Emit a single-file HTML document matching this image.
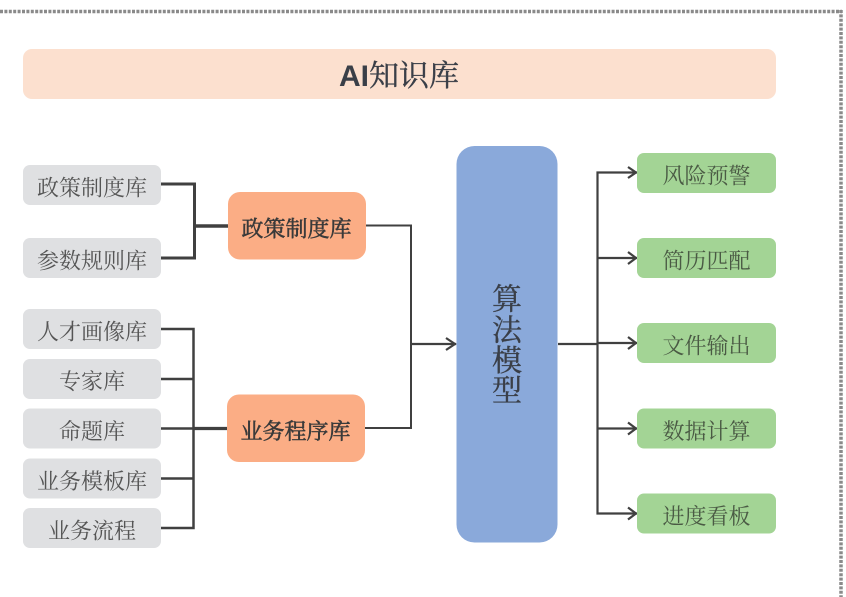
<!DOCTYPE html>
<html lang="zh">
<head>
<meta charset="utf-8">
<title>AI知识库</title>
<style>
html,body{margin:0;padding:0;background:#fff;width:846px;height:597px;overflow:hidden}
svg{display:block}
text{font-family:"Liberation Serif","Noto Serif CJK SC",serif;text-anchor:middle;dominant-baseline:central}
.g{font-size:22px;fill:#555}
.o{font-size:22px;fill:#3a3a3a;stroke:#3a3a3a;stroke-width:.55px}
.n{font-size:22px;fill:#4a5a44}
.b{font-size:30px;fill:#3a3f48;stroke:#3a3f48;stroke-width:.35px}
</style>
</head>
<body>
<svg width="846" height="597" viewBox="0 0 846 597" xmlns="http://www.w3.org/2000/svg">
<line x1="0" y1="11.5" x2="842" y2="11.5" stroke="#8a8a8a" stroke-width="3.5" stroke-dasharray="3 1.4"/>
<line x1="841" y1="10" x2="841" y2="597" stroke="#8a8a8a" stroke-width="3.5" stroke-dasharray="3 1.4"/>

<rect x="23" y="49" width="753" height="50" rx="9" fill="#fce0cf"/>
<text x="399" y="76" font-size="30" fill="#3a3f48"><tspan font-family="Liberation Sans" font-weight="700">AI</tspan><tspan stroke="#3a3f48" stroke-width=".35">知识库</tspan></text>

<g fill="none" stroke="#404040" stroke-linejoin="miter">
<path d="M161 184H194.500V258H161" stroke-width="3"/>
<path d="M194 226H228" stroke-width="3.500"/>
<path d="M161 329H193.500V528H161" stroke-width="2.500"/>
<path d="M161 379H193M161 478.500H193" stroke-width="2.500"/>
<path d="M161 428.500H193" stroke-width="2.500"/>
<path d="M193 428.500H227" stroke-width="3.200"/>
<path d="M366 225.500H411V428H365" stroke-width="2"/>
<path d="M411 344H456" stroke-width="2.200"/>
<path d="M446 338L455 344L446 350" stroke-width="2.200"/>
<path d="M558 344H597" stroke-width="2.200"/>
<path d="M637 172.500H597.500V513.500H637" stroke-width="2.200"/>
<path d="M597 258H637M597 343H637M597 428.500H637" stroke-width="2.200"/>
<path d="M628 167L636 172.500L628 178M628 252L636 258L628 264M628 337L636 343L628 349M628 422.500L636 428.500L628 434.500M628 507.500L636 513.500L628 519.500" stroke-width="2.200"/>
</g>

<g fill="#dfe0e2">
<rect x="23" y="165" width="138" height="40" rx="7"/>
<rect x="23" y="238" width="138" height="40" rx="7"/>
<rect x="23" y="309" width="138" height="40" rx="7"/>
<rect x="23" y="359" width="138" height="40" rx="7"/>
<rect x="23" y="408.500" width="138" height="40" rx="7"/>
<rect x="23" y="458.500" width="138" height="40" rx="7"/>
<rect x="23" y="508" width="138" height="40" rx="7"/>
</g>
<text class="g" x="92" y="188">政策制度库</text>
<text class="g" x="92" y="261">参数规则库</text>
<text class="g" x="92" y="332">人才画像库</text>
<text class="g" x="92" y="381.500">专家库</text>
<text class="g" x="92" y="431.500">命题库</text>
<text class="g" x="92" y="481.500">业务模板库</text>
<text class="g" x="92" y="531">业务流程</text>

<rect x="228" y="192" width="138" height="67.500" rx="12" fill="#fbad85"/>
<rect x="227" y="394.500" width="138" height="67.500" rx="12" fill="#fbad85"/>
<text class="o" x="296.500" y="229">政策制度库</text>
<text class="o" x="295.500" y="431.500">业务程序库</text>

<rect x="456.500" y="146" width="101" height="396.500" rx="18" fill="#8aa9da"/>
<text class="b" x="507" y="300">算</text>
<text class="b" x="507" y="331">法</text>
<text class="b" x="507" y="361.500">模</text>
<text class="b" x="507" y="391.500">型</text>

<g fill="#a3d495">
<rect x="637" y="153" width="139" height="40" rx="7"/>
<rect x="637" y="238" width="139" height="40" rx="7"/>
<rect x="637" y="323" width="139" height="40" rx="7"/>
<rect x="637" y="408.500" width="139" height="40" rx="7"/>
<rect x="637" y="493.500" width="139" height="40" rx="7"/>
</g>
<text class="n" x="706.500" y="176">风险预警</text>
<text class="n" x="706.500" y="261">简历匹配</text>
<text class="n" x="706.500" y="346">文件输出</text>
<text class="n" x="706.500" y="431.500">数据计算</text>
<text class="n" x="706.500" y="516.500">进度看板</text>
</svg>
</body>
</html>
